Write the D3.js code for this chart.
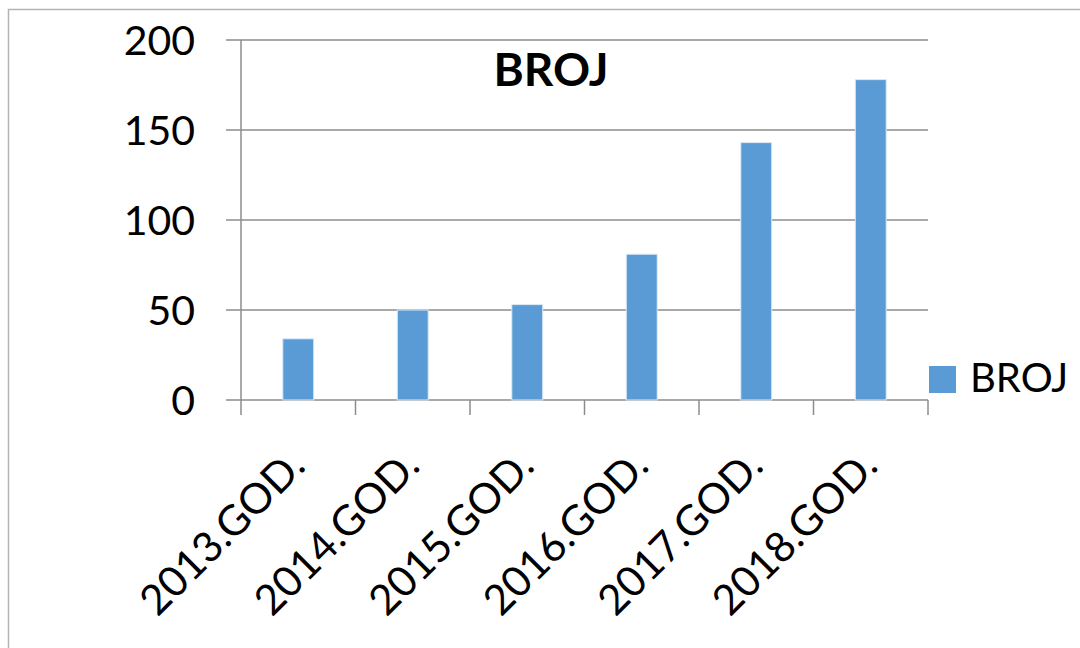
<!DOCTYPE html>
<html>
<head>
<meta charset="utf-8">
<script src="https://cdn.jsdelivr.net/npm/d3@7"></script>
<style>
  html,body{margin:0;padding:0;background:#fff;}
  svg{display:block;font-family:Lato,"Open Sans",sans-serif;}
</style>
</head>
<body>
<svg width="1080" height="648"></svg>
<script>
// ---- data ----
const years  = ["2013.GOD.","2014.GOD.","2015.GOD.","2016.GOD.","2017.GOD.","2018.GOD."];
const broj   = [34, 50, 53, 81, 143, 178];
const yTicks = [0, 50, 100, 150, 200];
const seriesName = "BROJ";

const svg = d3.select("svg");
const W = 1080, H = 648;
const P = { l:241, r:928, t:40, b:400 };
const GRID = "#8c8c8c", BAR = "#5b9bd5";

// outer frame (top + left only visible)
svg.append("path").attr("d",`M8.5,${H} L8.5,9.5 L${W},9.5`)
  .attr("fill","none").attr("stroke","#b4b4b4").attr("stroke-width",1.5);

const x = d3.scaleBand().domain(years).range([P.l,P.r]).padding(0);
const y = d3.scaleLinear().domain([0,200]).range([P.b,P.t]);

// gridlines + y labels
const gy = svg.append("g");
gy.selectAll("line").data(yTicks).join("line")
  .attr("x1",P.l-15).attr("x2",P.r)
  .attr("y1",d=>y(d)).attr("y2",d=>y(d))
  .attr("stroke",GRID).attr("stroke-width",1.5);
gy.selectAll("text").data(yTicks).join("text")
  .attr("x",195).attr("y",d=>y(d)).attr("dy","0.36em")
  .attr("text-anchor","end").attr("font-size",41).attr("fill","#000")
  .text(d=>d);

// y axis line
svg.append("line").attr("x1",P.l).attr("x2",P.l).attr("y1",P.t).attr("y2",P.b)
  .attr("stroke",GRID).attr("stroke-width",1.5);

// category ticks
const edges = years.map(d=>x(d)).concat([P.r]);
svg.append("g").selectAll("line").data(edges).join("line")
  .attr("x1",d=>d).attr("x2",d=>d).attr("y1",P.b).attr("y2",P.b+15)
  .attr("stroke",GRID).attr("stroke-width",1.5);

// bars
const bw = x.bandwidth()*0.27;
svg.append("g").selectAll("rect").data(years).join("rect")
  .attr("x",(d)=>x(d)+(x.bandwidth()-bw)/2)
  .attr("y",(d,i)=>y(broj[i]))
  .attr("width",bw)
  .attr("height",(d,i)=>y(0)-y(broj[i]))
  .attr("fill",BAR).attr("stroke","#dce9f5").attr("stroke-width",1);

// x labels, rotated
svg.append("g").selectAll("text").data(years).join("text")
  .attr("transform",d=>`translate(${x(d)+x.bandwidth()/2+9},${468}) rotate(-45)`)
  .attr("text-anchor","end").attr("font-size",42).attr("fill","#000")
  .text(d=>d);

// title
svg.append("text").attr("x",551).attr("y",86).attr("text-anchor","middle")
  .attr("font-size",46).attr("font-weight",700).attr("fill","#000").text(seriesName);

// legend
svg.append("rect").attr("x",929).attr("y",366).attr("width",27).attr("height",27).attr("fill",BAR);
svg.append("text").attr("x",970).attr("y",392).attr("font-size",40).attr("fill","#000").text(seriesName);
</script>
</body>
</html>
